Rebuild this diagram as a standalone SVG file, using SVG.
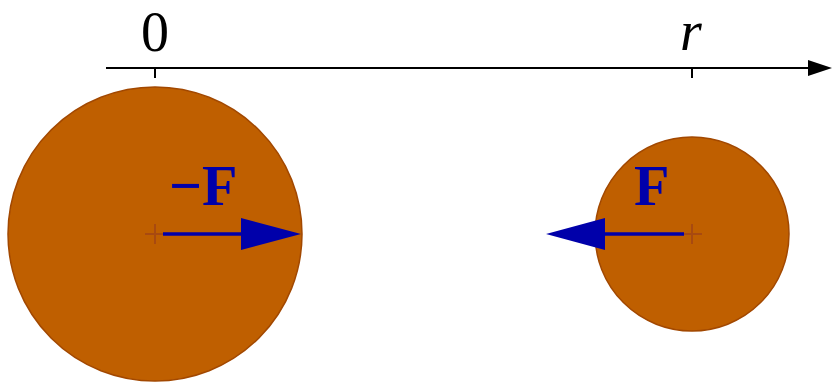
<svg xmlns="http://www.w3.org/2000/svg" width="832" height="385" viewBox="0 0 832 385">
<style>
.ball{fill:#BF5F00;stroke:#A24800;stroke-width:1.5}
.cross{stroke:#A84A10;stroke-width:2;fill:none}
.force{stroke:#0000AA;stroke-width:3.5;fill:none}
.head{fill:#0000AA}
.lbl{font-family:"Liberation Serif",serif;font-size:56px;fill:#000}
.flbl{font-family:"Liberation Serif",serif;font-size:58px;font-weight:bold;fill:#0000AA}
.axis{stroke:#000;stroke-width:2;fill:none}
</style>
<g id="axis">
<line class="axis" x1="106" y1="68" x2="810" y2="68"/>
<polygon points="808,60 832,68 808,76" fill="#000"/>
<line class="axis" x1="155" y1="68" x2="155" y2="78"/>
<line class="axis" x1="692" y1="68" x2="692" y2="78"/>
<text class="lbl" x="155" y="51" text-anchor="middle">0</text>
<text class="lbl" x="691" y="50" text-anchor="middle" font-style="italic">r</text>
</g>
<g id="ball-left">
<circle class="ball" cx="155" cy="234" r="147"/>
<line class="cross" x1="145" y1="234" x2="165" y2="234"/>
<line class="cross" x1="155" y1="224" x2="155" y2="244"/>
</g>
<g id="ball-right">
<circle class="ball" cx="692" cy="234" r="97"/>
<line class="cross" x1="682" y1="234" x2="702" y2="234"/>
<line class="cross" x1="692" y1="224" x2="692" y2="244"/>
</g>
<g id="connectors">
<line class="force" x1="163" y1="234" x2="245" y2="234"/>
<polygon class="head" points="241,218 301,234 241,250"/>
<line class="force" x1="600" y1="234" x2="684" y2="234"/>
<polygon class="head" points="605,218 546,234 605,250"/>
</g>
<g id="label-negF">
<text class="flbl" x="169" y="205">−F</text>
</g>
<g id="label-F">
<text class="flbl" x="634" y="205">F</text>
</g>
</svg>
